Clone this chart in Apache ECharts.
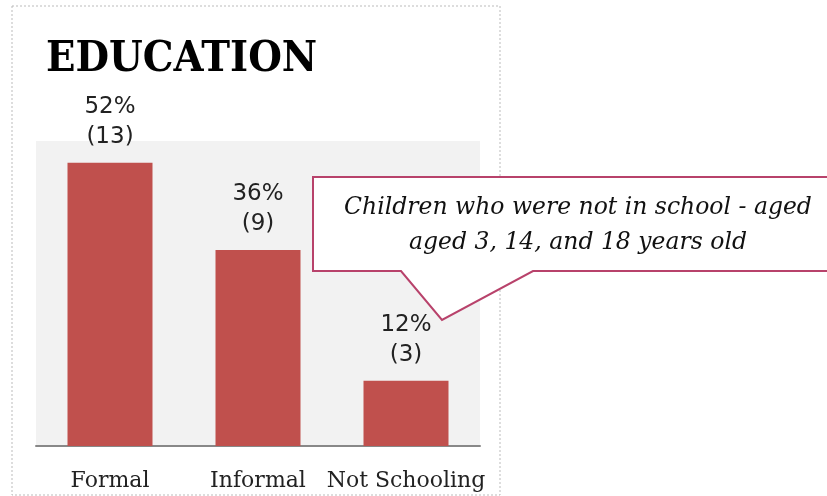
<!DOCTYPE html>
<html><head><meta charset="utf-8">
<script src="https://cdn.jsdelivr.net/npm/echarts@6/dist/echarts.min.js"></script>
<style>html,body{margin:0;padding:0;background:#fff}#c{width:827px;height:496px}</style>
</head><body><div id="c"></div>
<script>
const categories = ['Formal', 'Informal', 'Not Schooling'];
const percentValues = [52, 36, 12];
const countValues = [13, 9, 3];
const titleText = 'EDUCATION';
const calloutLines = ['Children who were not in school - aged', 'aged 3, 14, and 18 years old'];

const chart = echarts.init(document.getElementById('c'));
chart.setOption({
  animation: false,
  title: {
    text: titleText, left: 41, top: 33,
    textStyle: { fontFamily: 'DejaVu Serif Condensed', fontWeight: 'bold', fontSize: 43, color: '#000' }
  },
  grid: { left: 36, right: 347, top: 141, bottom: 50, show: true, backgroundColor: '#f2f2f2', borderWidth: 0 },
  xAxis: {
    type: 'category', data: categories,
    axisLine: { lineStyle: { color: '#888', width: 2 } },
    axisTick: { show: false },
    axisLabel: { fontFamily: 'DejaVu Serif', fontSize: 22, color: '#222', margin: 24, interval: 0 }
  },
  yAxis: { type: 'value', min: 0, max: 56, show: false, splitLine: { show: false } },
  series: [{
    type: 'bar', data: percentValues, barWidth: 85,
    itemStyle: { color: '#c0504d' },
    label: {
      show: true, position: 'top', distance: 11,
      fontFamily: 'DejaVu Sans', fontSize: 23, color: '#222', lineHeight: 30, align: 'center',
      formatter: p => p.value + '%\n(' + countValues[p.dataIndex] + ')'
    }
  }],
  graphic: [
    { type: 'rect', shape: { x: 12, y: 6, width: 488, height: 489 }, style: { fill: 'none', stroke: '#bbb', lineWidth: 1, lineDash: [2, 2] }, z: -1 },
    { type: 'polygon', shape: { points: [[313,177],[840,177],[840,271],[533,271],[442,320],[401,271],[313,271]] },
      style: { fill: '#fff', stroke: '#b8426b', lineWidth: 2 }, z: 10 },
    { type: 'text', x: 578, y: 208, z: 11,
      style: { text: calloutLines[0], fontFamily: 'DejaVu Serif', fontStyle: 'italic', fontSize: 23.5, fill: '#111', align: 'center', verticalAlign: 'middle' } },
    { type: 'text', x: 578, y: 243, z: 11,
      style: { text: calloutLines[1], fontFamily: 'DejaVu Serif', fontStyle: 'italic', fontSize: 23.5, fill: '#111', align: 'center', verticalAlign: 'middle' } }
  ]
});
</script></body></html>
